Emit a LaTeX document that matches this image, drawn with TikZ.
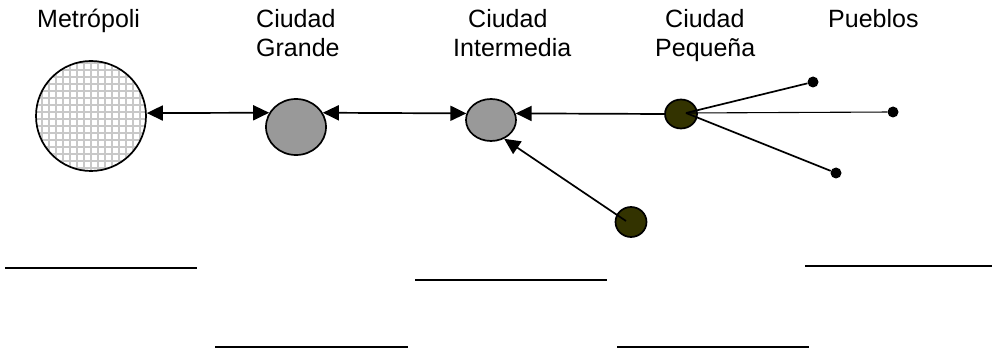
\documentclass[tikz,border=0pt]{standalone}
\usepackage{fontspec}
\setmainfont{Liberation Sans}
\usetikzlibrary{arrows.meta,shapes.geometric}
\definecolor{midgray}{HTML}{999999}
\definecolor{darkolive}{HTML}{333300}
\definecolor{gridgray}{HTML}{C8C8C8}
\begin{document}
\begin{tikzpicture}[x=1pt,y=-1pt,
  lbl/.style={inner sep=0pt,anchor=base west,font=\fontsize{25}{29}\selectfont},
  city/.style={ellipse,draw=black,line width=1.7pt,inner sep=0pt},
  dotnode/.style={circle,fill=black,inner sep=0pt,minimum size=11pt},
  conn/.style={line width=1.7pt},
  tip/.style={-{Triangle[length=16pt,width=15pt]}},
  bothtip/.style={{Triangle[length=16pt,width=15pt]}-{Triangle[length=16pt,width=15pt]}},
  blank/.style={line width=2.2pt}]
\useasboundingbox (0,0) rectangle (992,352);

% labels
\node[lbl] (tm) at (37,28) {Metrópoli};
\node[lbl] (tg1) at (256,28) {Ciudad};
\node[lbl] (tg2) at (256,57) {Grande};
\node[lbl] (ti1) at (468,28) {Ciudad};
\node[lbl] (ti2) at (453,57) {Intermedia};
\node[lbl] (tp1) at (665,28) {Ciudad};
\node[lbl] (tp2) at (655,57) {Pequeña};
\node[lbl] (tpu) at (828,28) {Pueblos};

% metropolis with grid fill
\fill[white] (91,116) circle[radius=55pt];
\begin{scope}
  \clip (91,116) circle[radius=55pt];
  \draw[gridgray,line width=1.3pt] (30,55) grid[step=7pt] (160,180);
\end{scope}
\node[circle,draw=black,line width=1.7pt,minimum size=110pt,inner sep=0pt] (m) at (91,116) {};

% cities
\node[city,fill=midgray,minimum width=60pt,minimum height=56pt] (g) at (296,127) {};
\node[city,fill=midgray,minimum width=50pt,minimum height=42pt] (i) at (491,120) {};
\node[city,fill=darkolive,minimum width=32pt,minimum height=29pt] (p) at (681,114) {};
\node[city,fill=darkolive,minimum width=31pt,minimum height=30pt] (s) at (631,222) {};

% villages
\node[dotnode] (d1) at (813,82) {};
\node[dotnode] (d2) at (893,112) {};
\node[dotnode] (d3) at (836,173) {};

\coordinate (pc) at (686,113);
\coordinate (sc) at (626,221);

% connectors
\draw[conn,bothtip] (m.3) -- (g.152);
\draw[conn,bothtip] (g.28) -- (i.165);
\draw[conn,tip] (p.west) -- (i.15);
\draw[conn,tip] (sc) -- (i.-55);
\draw[conn] (pc) -- (d1);
\draw[line width=1.1pt] (pc) -- (d2);
\draw[conn] (pc) -- (d3);

% blank lines
\coordinate (a1) at (5,268);   \coordinate (b1) at (197,268);
\coordinate (a2) at (415,280); \coordinate (b2) at (607,280);
\coordinate (a3) at (805,266); \coordinate (b3) at (992,266);
\coordinate (a4) at (215,347); \coordinate (b4) at (408,347);
\coordinate (a5) at (617,347); \coordinate (b5) at (809,347);
\draw[blank] (a1) -- (b1);
\draw[blank] (a2) -- (b2);
\draw[blank] (a3) -- (b3);
\draw[blank] (a4) -- (b4);
\draw[blank] (a5) -- (b5);
\end{tikzpicture}
\end{document}
